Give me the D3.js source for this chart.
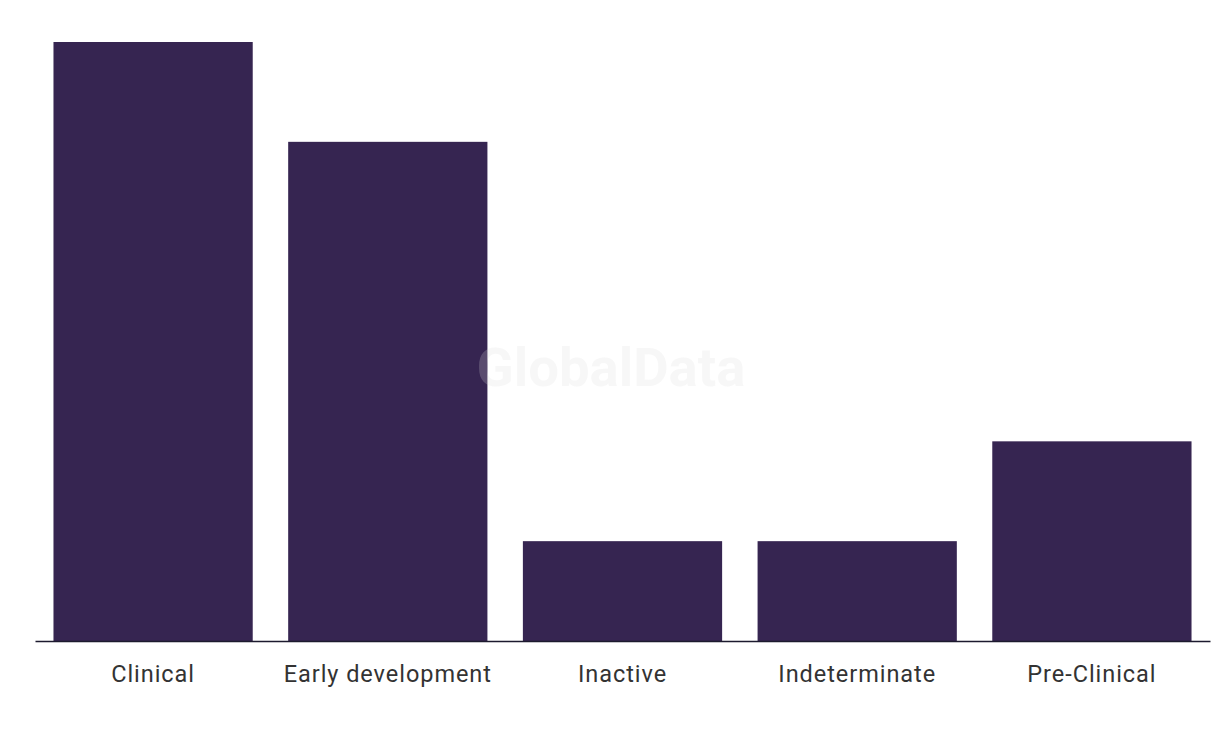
<!DOCTYPE html>
<html><head><meta charset="utf-8">
<script src="https://cdn.jsdelivr.net/npm/d3@7"></script>
<style>body{margin:0;background:#fff}svg{display:block}</style>
</head><body>
<script>
const categories = ["Clinical","Early development","Inactive","Indeterminate","Pre-Clinical"];
const values = [6,5,1,1,2];

const W=1220,H=736;
const svg=d3.select("body").append("svg").attr("width",W).attr("height",H);
const x=d3.scaleBand().domain(categories).range([35,1210]).paddingInner(35.5/235).paddingOuter(18.5/235);
const y=d3.scaleLinear().domain([0,6]).range([641,42]);

svg.selectAll("rect.bar").data(categories).join("rect").attr("class","bar")
  .attr("x",d=>x(d)).attr("width",x.bandwidth())
  .attr("y",(d,i)=>y(values[i])).attr("height",(d,i)=>y(0)-y(values[i]))
  .attr("fill","#362551");

const ax=svg.append("g").attr("transform","translate(0,641)")
  .call(d3.axisBottom(x).tickSize(0).tickPadding(24));
ax.select(".domain").attr("stroke","#1c1a2e").attr("stroke-width",1.5);
ax.selectAll("text").attr("font-family","Roboto, sans-serif").attr("font-size",23.5)
  .attr("letter-spacing",0.95).attr("fill","#333").attr("dy","0.71em");

svg.append("text").attr("x",611).attr("y",386).attr("text-anchor","middle")
  .attr("font-family","Roboto, sans-serif").attr("font-weight","bold").attr("font-size",54.5)
  .attr("fill","#dbdbdb").attr("fill-opacity",0.22).text("GlobalData");
</script>
</body></html>
